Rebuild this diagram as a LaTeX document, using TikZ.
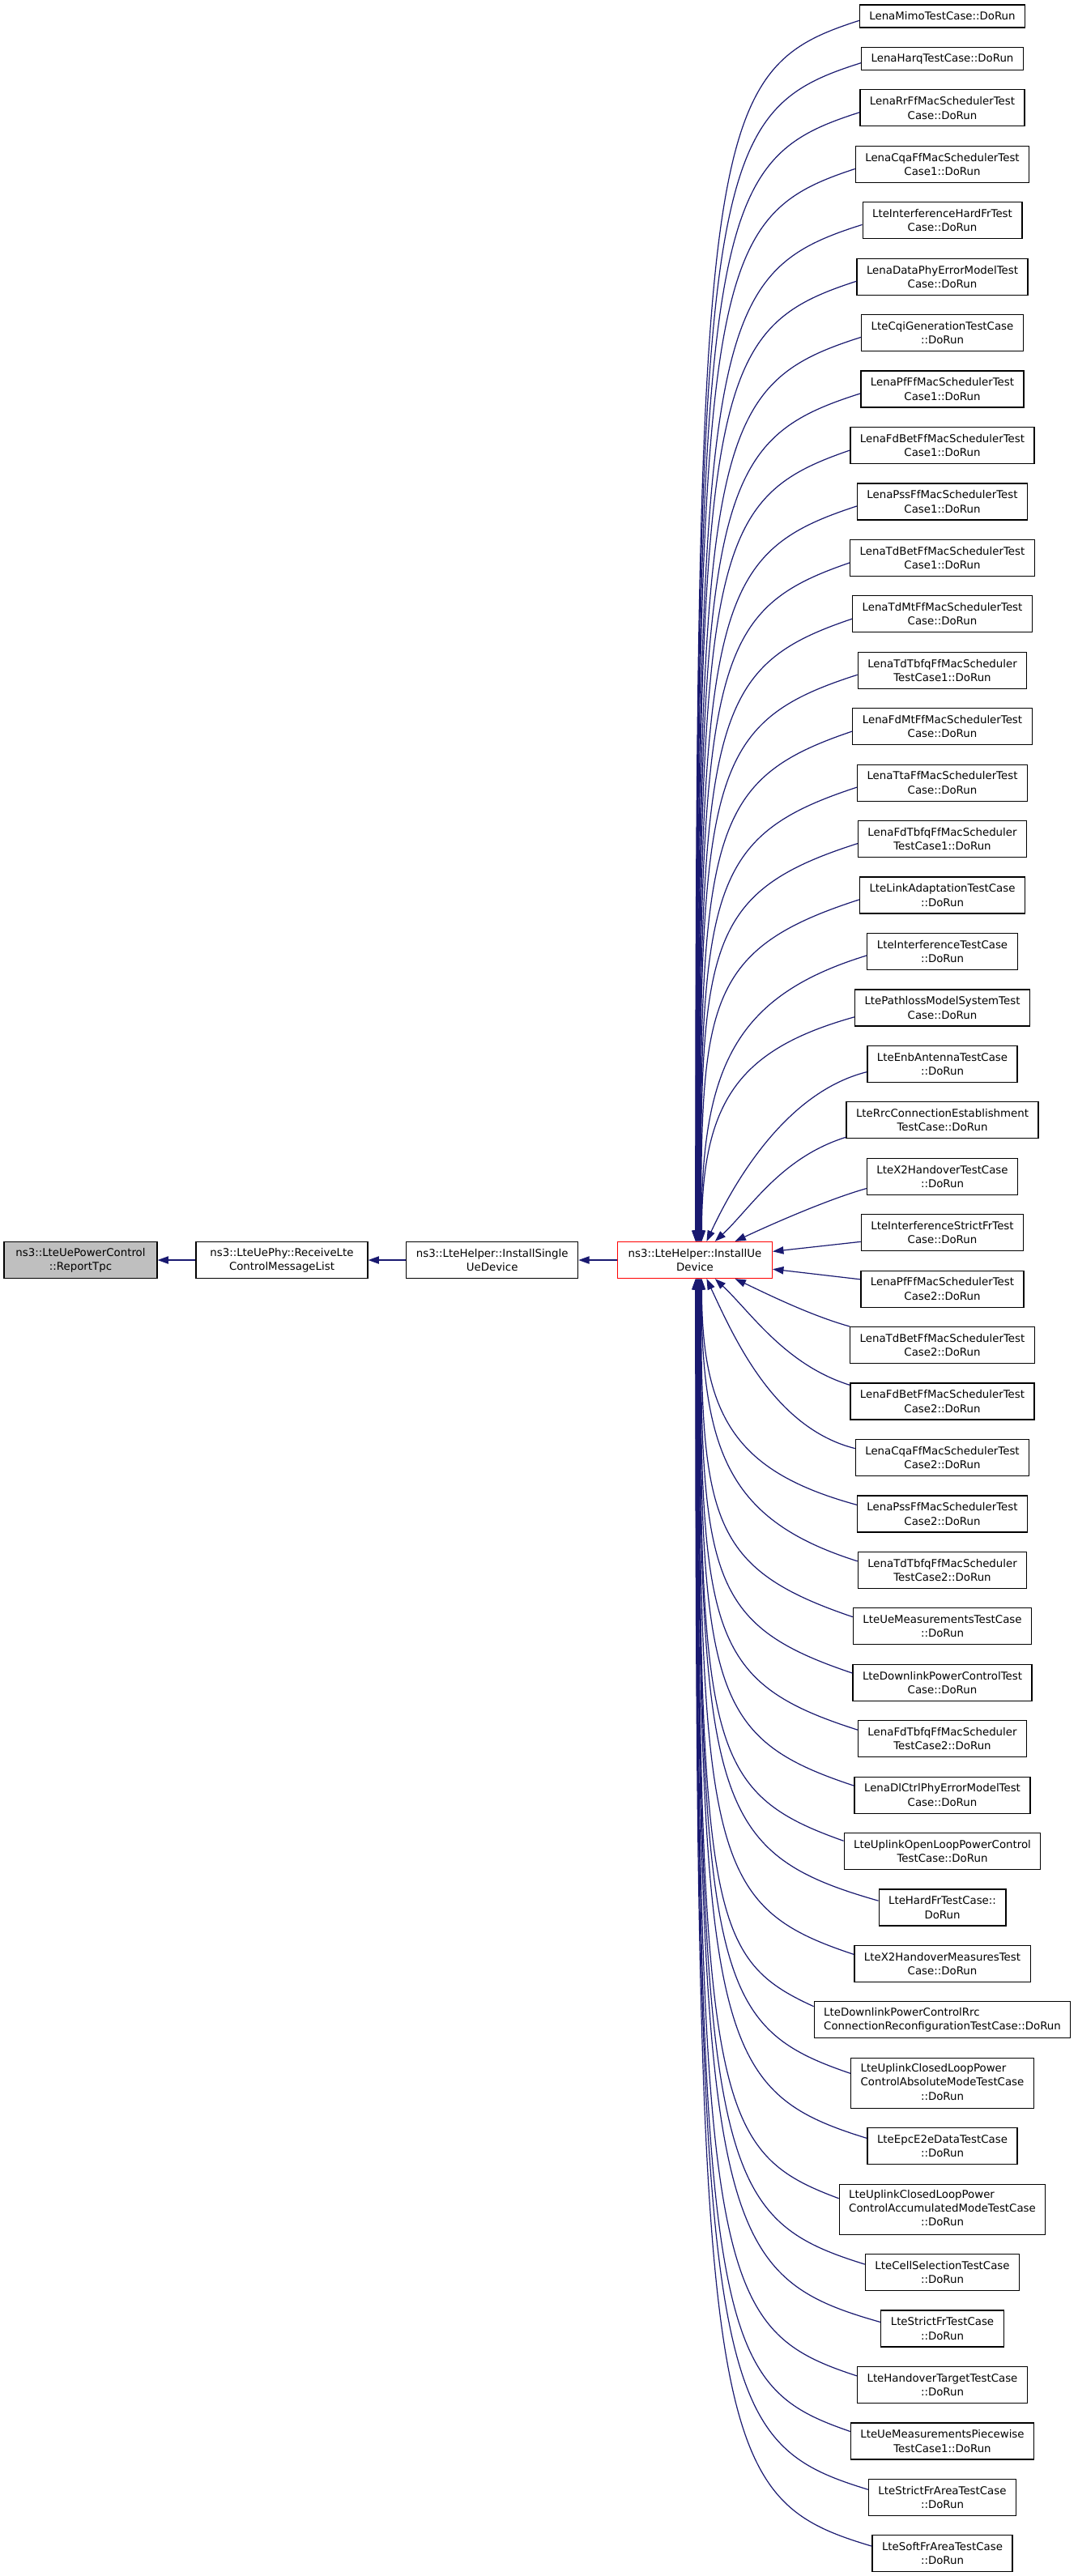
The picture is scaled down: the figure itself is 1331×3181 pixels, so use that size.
\documentclass[tikz,border=0pt]{standalone}
\usepackage{fontspec}
\setmainfont{DejaVu Sans}
\usetikzlibrary{arrows.meta}
\definecolor{midnight}{HTML}{191970}
\definecolor{callergray}{HTML}{BFBFBF}
\tikzset{
	fnbox/.style={draw=black, line width=0.9pt, fill=white, inner xsep=9pt, inner ysep=1pt, align=center, font=\fontsize{10}{13}\selectfont},
	oneline/.style={fnbox, minimum height=21pt},
	twoline/.style={fnbox, minimum height=33.75pt},
	threeline/.style={fnbox, minimum height=46.5pt},
	calls/.style={draw=midnight, line width=0.9pt, -{Triangle[length=10pt,width=7pt]}}
}

\begin{document}
\begin{tikzpicture}[x=0.75pt, y=-0.75pt]
		%%%%% START %%%%%
		
		\fill[white] (0,0) rectangle (1331,3181);
		
		\node[twoline, fill=callergray, minimum width=141.75pt] (tpc) at (99.5,1556) {ns3::LteUePowerControl\\::ReportTpc};
		\node[twoline, minimum width=159pt] (rxctrl) at (348,1556) {ns3::LteUePhy::ReceiveLte\\ControlMessageList};
		\node[twoline, minimum width=159pt] (single) at (607.7,1556) {ns3::LteHelper::InstallSingle\\UeDevice};
		\node[twoline, draw=red, minimum width=143.25pt] (instue) at (858,1556) {ns3::LteHelper::InstallUe\\Device};
		
		\draw[calls] (rxctrl) -- (tpc);
		\draw[calls] (single) -- (rxctrl);
		\draw[calls] (instue) -- (single);
		
		%%%%% CALLERS ABOVE %%%%%
		
		\node[oneline] (mimo) at (1163.5,20) {LenaMimoTestCase::DoRun};
		\node[oneline] (harq) at (1163.5,72.44) {LenaHarqTestCase::DoRun};
		\node[twoline] (rrff) at (1163.5,133.38) {LenaRrFfMacSchedulerTest\\Case::DoRun};
		\node[twoline] (cqa1) at (1163.5,202.82) {LenaCqaFfMacSchedulerTest\\Case1::DoRun};
		\node[twoline] (ifhardfr) at (1163.5,272.26) {LteInterferenceHardFrTest\\Case::DoRun};
		\node[twoline] (dataphy) at (1163.5,341.70) {LenaDataPhyErrorModelTest\\Case::DoRun};
		\node[twoline] (cqigen) at (1163.5,411.14) {LteCqiGenerationTestCase\\::DoRun};
		\node[twoline] (pf1) at (1163.5,480.58) {LenaPfFfMacSchedulerTest\\Case1::DoRun};
		\node[twoline] (fdbet1) at (1163.5,550.02) {LenaFdBetFfMacSchedulerTest\\Case1::DoRun};
		\node[twoline] (pss1) at (1163.5,619.46) {LenaPssFfMacSchedulerTest\\Case1::DoRun};
		\node[twoline] (tdbet1) at (1163.5,688.90) {LenaTdBetFfMacSchedulerTest\\Case1::DoRun};
		\node[twoline] (tdmt) at (1163.5,758.34) {LenaTdMtFfMacSchedulerTest\\Case::DoRun};
		\node[twoline] (tdtbfq1) at (1163.5,827.78) {LenaTdTbfqFfMacScheduler\\TestCase1::DoRun};
		\node[twoline] (fdmt) at (1163.5,897.22) {LenaFdMtFfMacSchedulerTest\\Case::DoRun};
		\node[twoline] (tta) at (1163.5,966.66) {LenaTtaFfMacSchedulerTest\\Case::DoRun};
		\node[twoline] (fdtbfq1) at (1163.5,1036.10) {LenaFdTbfqFfMacScheduler\\TestCase1::DoRun};
		\node[twoline] (linkadapt) at (1163.5,1105.54) {LteLinkAdaptationTestCase\\::DoRun};
		\node[twoline] (interf) at (1163.5,1174.98) {LteInterferenceTestCase\\::DoRun};
		\node[twoline] (pathloss) at (1163.5,1244.42) {LtePathlossModelSystemTest\\Case::DoRun};
		\node[twoline] (enbant) at (1163.5,1313.86) {LteEnbAntennaTestCase\\::DoRun};
		\node[twoline] (rrcest) at (1163.5,1383.30) {LteRrcConnectionEstablishment\\TestCase::DoRun};
		\node[twoline] (xtwoho) at (1163.5,1452.74) {LteX2HandoverTestCase\\::DoRun};
		\node[twoline] (ifstrictfr) at (1163.5,1522.18) {LteInterferenceStrictFrTest\\Case::DoRun};
		
		\draw[calls] (mimo.183) .. controls +(-187,60) and +(0,-1383) .. (instue.88);
		\draw[calls] (harq.183) .. controls +(-190,60) and +(0,-1331) .. (instue.87);
		\draw[calls] (rrff.183) .. controls +(-188,60) and +(0,-1270) .. (instue.86);
		\draw[calls] (cqa1.183) .. controls +(-183,60) and +(0,-1200) .. (instue.85);
		\draw[calls] (ifhardfr.183) .. controls +(-190,60) and +(0,-1131) .. (instue.84);
		\draw[calls] (dataphy.183) .. controls +(-185,60) and +(0,-1061) .. (instue.83);
		\draw[calls] (cqigen.183) .. controls +(-189,60) and +(0,-992) .. (instue.82);
		\draw[calls] (pf1.183) .. controls +(-189,60) and +(0,-922) .. (instue.81);
		\draw[calls] (fdbet1.183) .. controls +(-175,60) and +(0,-853) .. (instue.80);
		\draw[calls] (pss1.183) .. controls +(-184,60) and +(0,-784) .. (instue.79);
		\draw[calls] (tdbet1.183) .. controls +(-175,60) and +(0,-714) .. (instue.78);
		\draw[calls] (tdmt.183) .. controls +(-178,60) and +(0,-645) .. (instue.77);
		\draw[calls] (tdtbfq1.183) .. controls +(-188,60) and +(0,-575) .. (instue.76);
		\draw[calls] (fdmt.183) .. controls +(-178,60) and +(0,-506) .. (instue.75);
		\draw[calls] (tta.183) .. controls +(-184,60) and +(0,-436) .. (instue.74);
		\draw[calls] (fdtbfq1.183) .. controls +(-188,60) and +(0,-367) .. (instue.73);
		\draw[calls] (linkadapt.183) .. controls +(-187,60) and +(0,-297) .. (instue.72);
		\draw[calls] (interf.183) .. controls +(-163,50) and +(0,-215) .. (instue.71);
		\draw[calls] (pathloss.186) .. controls +(-143,40) and +(0,-173) .. (instue.70);
		\draw[calls] (enbant.186) .. controls +(-100,25) and +(34,-73) .. (instue.58);
		\draw[calls] (rrcest.190) .. controls +(-80,25) and +(44,-41) .. (instue.43);
		\draw[calls] (xtwoho.189) .. controls +(-50,14) and +(36,-17) .. (instue.25);
		\draw[calls] (ifstrictfr) -- (instue);
		
		%%%%% CALLERS BELOW %%%%%
		
		\node[twoline] (pf2) at (1163.5,1591.62) {LenaPfFfMacSchedulerTest\\Case2::DoRun};
		\node[twoline] (tdbet2) at (1163.5,1661.06) {LenaTdBetFfMacSchedulerTest\\Case2::DoRun};
		\node[twoline] (fdbet2) at (1163.5,1730.50) {LenaFdBetFfMacSchedulerTest\\Case2::DoRun};
		\node[twoline] (cqa2) at (1163.5,1799.94) {LenaCqaFfMacSchedulerTest\\Case2::DoRun};
		\node[twoline] (pss2) at (1163.5,1869.38) {LenaPssFfMacSchedulerTest\\Case2::DoRun};
		\node[twoline] (tdtbfq2) at (1163.5,1938.82) {LenaTdTbfqFfMacScheduler\\TestCase2::DoRun};
		\node[twoline] (uemeas) at (1163.5,2008.26) {LteUeMeasurementsTestCase\\::DoRun};
		\node[twoline] (dlpc) at (1163.5,2077.70) {LteDownlinkPowerControlTest\\Case::DoRun};
		\node[twoline] (fdtbfq2) at (1163.5,2147.14) {LenaFdTbfqFfMacScheduler\\TestCase2::DoRun};
		\node[twoline] (dlctrl) at (1163.5,2216.58) {LenaDlCtrlPhyErrorModelTest\\Case::DoRun};
		\node[twoline] (ulolpc) at (1163.5,2286.02) {LteUplinkOpenLoopPowerControl\\TestCase::DoRun};
		\node[twoline] (hardfr) at (1163.5,2355.46) {LteHardFrTestCase::\\DoRun};
		\node[twoline] (xtwomeas) at (1163.5,2424.90) {LteX2HandoverMeasuresTest\\Case::DoRun};
		\node[twoline, align=left] (dlpcrrc) at (1163.5,2494.34) {LteDownlinkPowerControlRrc\\ConnectionReconfigurationTestCase::DoRun};
		\node[threeline] (ulclabs) at (1163.5,2572.28) {\begin{tabular}{@{}l@{}}LteUplinkClosedLoopPower\\ControlAbsoluteModeTestCase\\\multicolumn{1}{@{}c@{}}{::DoRun}\end{tabular}};
		\node[twoline] (epce2e) at (1163.5,2650.22) {LteEpcE2eDataTestCase\\::DoRun};
		\node[threeline] (ulclacc) at (1163.5,2728.16) {\begin{tabular}{@{}l@{}}LteUplinkClosedLoopPower\\ControlAccumulatedModeTestCase\\\multicolumn{1}{@{}c@{}}{::DoRun}\end{tabular}};
		\node[twoline] (cellsel) at (1163.5,2806.10) {LteCellSelectionTestCase\\::DoRun};
		\node[twoline] (strictfr) at (1163.5,2875.54) {LteStrictFrTestCase\\::DoRun};
		\node[twoline] (hotarget) at (1163.5,2944.98) {LteHandoverTargetTestCase\\::DoRun};
		\node[twoline] (uemeaspw) at (1163.5,3014.42) {LteUeMeasurementsPiecewise\\TestCase1::DoRun};
		\node[twoline] (strictfrarea) at (1163.5,3083.86) {LteStrictFrAreaTestCase\\::DoRun};
		\node[twoline] (softfrarea) at (1163.5,3153.30) {LteSoftFrAreaTestCase\\::DoRun};
		
		\draw[calls] (pf2) -- (instue);
		\draw[calls] (tdbet2.north west) .. controls +(-50,-14) and +(36,17) .. (instue.-25);
		\draw[calls] (fdbet2.170) .. controls +(-80,-25) and +(44,41) .. (instue.-43);
		\draw[calls] (cqa2.174) .. controls +(-100,-25) and +(34,73) .. (instue.-58);
		\draw[calls] (pss2.174) .. controls +(-146,-40) and +(0,174) .. (instue.-70);
		\draw[calls] (tdtbfq2.174) .. controls +(-158,-50) and +(0,216) .. (instue.-71);
		\draw[calls] (uemeas.174) .. controls +(-177,-60) and +(0,299) .. (instue.-72);
		\draw[calls] (dlpc.174) .. controls +(-179,-60) and +(0,369) .. (instue.-73);
		\draw[calls] (fdtbfq2.174) .. controls +(-188,-60) and +(0,438) .. (instue.-74);
		\draw[calls] (dlctrl.174) .. controls +(-182,-60) and +(0,508) .. (instue.-75);
		\draw[calls] (ulolpc.174) .. controls +(-170,-60) and +(0,577) .. (instue.-76);
		\draw[calls] (hardfr.174) .. controls +(-210,-60) and +(0,646) .. (instue.-77);
		\draw[calls] (xtwomeas.174) .. controls +(-181,-60) and +(0,716) .. (instue.-78);
		\draw[calls] (dlpcrrc.174) .. controls +(-131,-60) and +(0,785) .. (instue.-79);
		\draw[calls] (ulclabs.174) .. controls +(-176,-60) and +(0,863) .. (instue.-80);
		\draw[calls] (epce2e.174) .. controls +(-194,-60) and +(0,941) .. (instue.-81);
		\draw[calls] (ulclacc.174) .. controls +(-161,-60) and +(0,1019) .. (instue.-82);
		\draw[calls] (cellsel.174) .. controls +(-193,-60) and +(0,1097) .. (instue.-83);
		\draw[calls] (strictfr.174) .. controls +(-212,-60) and +(0,1167) .. (instue.-84);
		\draw[calls] (hotarget.174) .. controls +(-183,-60) and +(0,1236) .. (instue.-85);
		\draw[calls] (uemeaspw.174) .. controls +(-174,-60) and +(0,1305) .. (instue.-86);
		\draw[calls] (strictfrarea.174) .. controls +(-196,-60) and +(0,1375) .. (instue.-87);
		\draw[calls] (softfrarea.174) .. controls +(-201,-60) and +(0,1444) .. (instue.-88);
		
		%%%%% END %%%%%
\end{tikzpicture}
\end{document}
